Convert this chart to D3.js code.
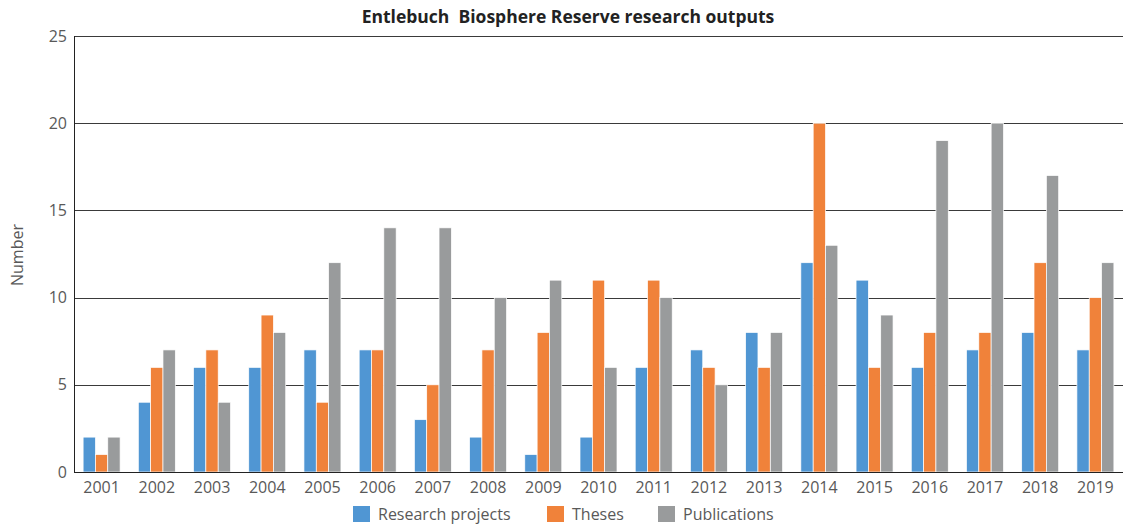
<!DOCTYPE html>
<html>
<head>
<meta charset="utf-8">
<script src="https://cdn.jsdelivr.net/npm/d3@7"></script>
<style>
  body { margin: 0; background: #fff; }
  svg text { font-family: "Open Sans", Lato, sans-serif; }
  .tick text { fill: #595959; font-size: 16px; }
  .domain { display: none; }
</style>
</head>
<body>
<svg id="chart" width="1130" height="524"></svg>
<script>
var years = ["2001","2002","2003","2004","2005","2006","2007","2008","2009","2010",
  "2011","2012","2013","2014","2015","2016","2017","2018","2019"];
var projects = [2,4,6,6,7,7,3,2,1,2,6,7,8,12,11,6,7,8,7];
var theses = [1,6,7,9,4,7,5,7,8,11,11,6,6,20,6,8,8,12,10];
var publications = [2,7,4,8,12,14,14,10,11,6,10,5,8,13,9,19,20,17,12];
var seriesNames = ["Research projects", "Theses", "Publications"];
var yTicks = [0, 5, 10, 15, 20, 25];

var COLORS = ["#5096d3", "#f0823a", "#999b9c"];
var series = [projects, theses, publications];

var margins = { top: 36, right: 7, bottom: 52, left: 74 };
var width = 1130, height = 524;
var chartWidth = width - margins.left - margins.right;
var chartHeight = height - margins.top - margins.bottom;

var svg = d3.select("#chart");
var chartElement = svg.append("g")
  .attr("transform", `translate(${margins.left},${margins.top})`);

var xScale = d3.scaleBand().domain(years).range([0, chartWidth])
  .paddingInner(0.33).paddingOuter(0.165);
var xInner = d3.scaleBand().domain(d3.range(3)).range([0, xScale.bandwidth()]);
var yScale = d3.scaleLinear().domain([0, 25]).range([chartHeight, 0]);

// grid
chartElement.append("g")
  .selectAll("line")
  .data(yTicks.slice(1))
  .enter().append("line")
  .attr("x1", 0).attr("x2", chartWidth)
  .attr("y1", d => Math.round(yScale(d)) + 0.5)
  .attr("y2", d => Math.round(yScale(d)) + 0.5)
  .attr("stroke", "#3a3a3a").attr("stroke-width", 1);

// y axis
var yAxis = d3.axisLeft(yScale).tickValues(yTicks).tickSize(0).tickPadding(7);
chartElement.append("g").attr("class", "y axis").call(yAxis);

// bars
series.forEach(function (vals, s) {
  chartElement.append("g")
    .selectAll("rect")
    .data(vals)
    .enter().append("rect")
    .attr("x", (d, i) => xScale(years[i]) + xInner(s))
    .attr("y", d => yScale(d))
    .attr("width", xInner.bandwidth())
    .attr("height", d => chartHeight - yScale(d))
    .attr("fill", COLORS[s])
    .attr("stroke", "#fff")
    .attr("stroke-width", 0.7);
});

// axis lines
chartElement.append("line")
  .attr("x1", 0.5).attr("x2", 0.5).attr("y1", 0).attr("y2", chartHeight)
  .attr("stroke", "#222");
chartElement.append("line")
  .attr("x1", 0).attr("x2", chartWidth)
  .attr("y1", chartHeight + 0.5).attr("y2", chartHeight + 0.5)
  .attr("stroke", "#222");

// x axis
var xAxis = d3.axisBottom(xScale).tickSize(0).tickPadding(7);
chartElement.append("g").attr("class", "x axis")
  .attr("transform", `translate(0,${chartHeight})`)
  .call(xAxis);
chartElement.selectAll(".x.axis .tick text").attr("dy", "0.9em");

// title
svg.append("text")
  .attr("x", 568).attr("y", 23)
  .attr("text-anchor", "middle")
  .style("font-size", "17.5px").style("font-weight", "bold").attr("fill", "#222")
  .text("Entlebuch\u00a0 Biosphere Reserve research outputs");

// y label
svg.append("text")
  .attr("transform", "translate(23,255) rotate(-90)")
  .attr("text-anchor", "middle")
  .style("font-size", "16px").attr("fill", "#595959")
  .text("Number");

// legend
var legendX = [353, 547, 658];
var legend = svg.append("g").selectAll("g")
  .data(seriesNames)
  .enter().append("g")
  .attr("transform", (d, i) => `translate(${legendX[i]},506)`);
legend.append("rect").attr("width", 17).attr("height", 16)
  .attr("fill", (d, i) => COLORS[i]);
legend.append("text").attr("x", 25).attr("y", 14)
  .style("font-size", "16px").attr("fill", "#595959")
  .text(d => d);
</script>
</body>
</html>
